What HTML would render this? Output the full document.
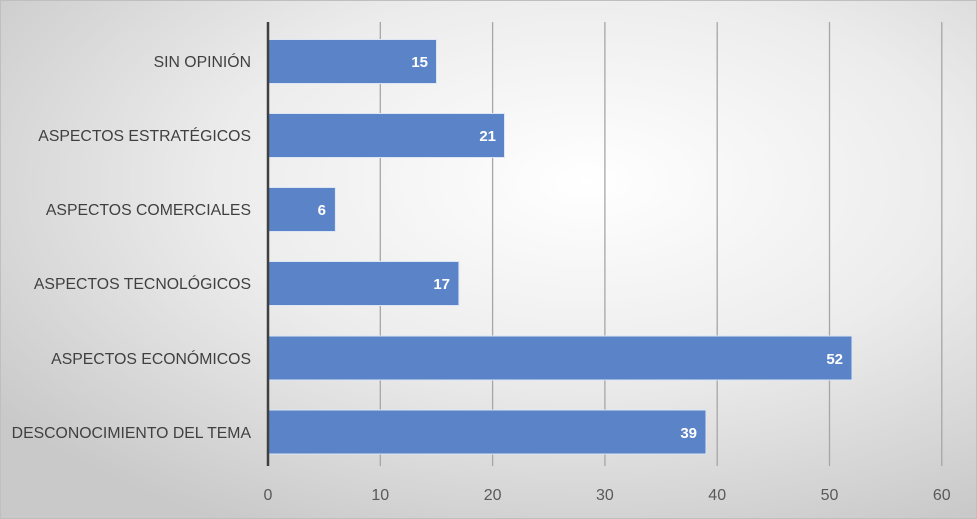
<!DOCTYPE html>
<html><head><meta charset="utf-8"><style>
html,body{margin:0;padding:0;width:977px;height:519px;overflow:hidden;}
</style></head><body>
<svg width="977" height="519" xmlns="http://www.w3.org/2000/svg" font-family="Liberation Sans, sans-serif">
<defs>
<radialGradient id="bg" cx="0.6" cy="0.35" r="0.75">
<stop offset="0" stop-color="#ffffff"/>
<stop offset="0.5" stop-color="#ececec"/>
<stop offset="1" stop-color="#c9c9c9"/>
</radialGradient>
</defs>
<rect x="0" y="0" width="977" height="519" fill="url(#bg)"/>
<rect x="0.5" y="0.5" width="976" height="518" fill="none" stroke="#bfbfbf"/>
<g stroke="#a6a6a6" stroke-width="1.3">
<line x1="380.3" y1="22" x2="380.3" y2="466"/>
<line x1="492.6" y1="22" x2="492.6" y2="466"/>
<line x1="604.9" y1="22" x2="604.9" y2="466"/>
<line x1="717.2" y1="22" x2="717.2" y2="466"/>
<line x1="829.5" y1="22" x2="829.5" y2="466"/>
<line x1="941.8" y1="22" x2="941.8" y2="466"/>
</g>
<g fill="#5b84c8" stroke="#dce6f5" stroke-width="1">
<rect x="268" y="39.5" width="168.5" height="44"/>
<rect x="268" y="113.5" width="236.5" height="44"/>
<rect x="268" y="187.5" width="67.4" height="44"/>
<rect x="268" y="261.5" width="190.9" height="44"/>
<rect x="268" y="336" width="584" height="44"/>
<rect x="268" y="410" width="438" height="44"/>
</g>
<line x1="268" y1="22" x2="268" y2="466" stroke="#404040" stroke-width="2.5"/>
<g fill="#ffffff" font-weight="bold" font-size="15" text-anchor="end">
<text x="428" y="67">15</text>
<text x="496" y="141">21</text>
<text x="326" y="215">6</text>
<text x="450" y="289">17</text>
<text x="843" y="364">52</text>
<text x="697" y="438">39</text>
</g>
<g fill="#404040" font-size="15.8" text-anchor="end">
<text x="251" y="67">SIN OPINIÓN</text>
<text x="251" y="141">ASPECTOS ESTRATÉGICOS</text>
<text x="251" y="215">ASPECTOS COMERCIALES</text>
<text x="251" y="289">ASPECTOS TECNOLÓGICOS</text>
<text x="251" y="364">ASPECTOS ECONÓMICOS</text>
<text x="251" y="438">DESCONOCIMIENTO DEL TEMA</text>
</g>
<g fill="#595959" font-size="16" text-anchor="middle">
<text x="268" y="500">0</text>
<text x="380.3" y="500">10</text>
<text x="492.6" y="500">20</text>
<text x="604.9" y="500">30</text>
<text x="717.2" y="500">40</text>
<text x="829.5" y="500">50</text>
<text x="941.8" y="500">60</text>
</g>
</svg>
</body></html>
